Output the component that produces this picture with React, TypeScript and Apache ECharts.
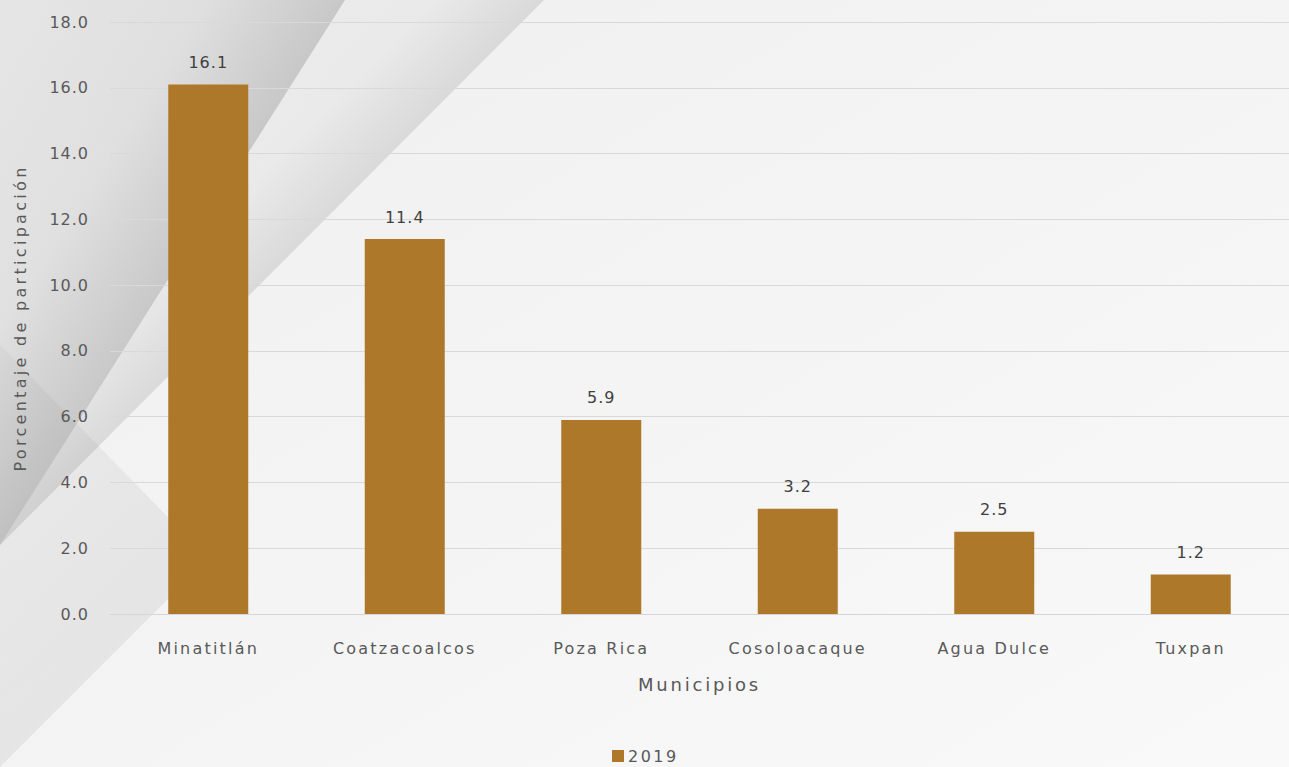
import React, { useEffect, useRef } from "react";
import * as echarts from "echarts";

const categories = ["Minatitlán", "Coatzacoalcos", "Poza Rica", "Cosoloacaque", "Agua Dulce", "Tuxpan"];
const values2019 = [16.1, 11.4, 5.9, 3.2, 2.5, 1.2];
const seriesName = "2019";
const yAxisName = "Porcentaje de participación";
const xAxisName = "Municipios";

const BAR_COLOR = "#ad782a";
const TEXT_COLOR = "#595959";
const FONT = "DejaVu Sans";

function spaceTexts(root: HTMLElement) {
  const texts = root.querySelectorAll("text");
  texts.forEach((t) => {
    const s = (t.textContent || "").trim();
    let sp = 0;
    if (s === yAxisName) sp = 3.3;
    else if (s === xAxisName) sp = 2.8;
    else if (categories.indexOf(s) >= 0) sp = 2.2;
    else if (s === seriesName) sp = 2.5;
    else if (/^[0-9.]+$/.test(s)) sp = 1;
    if (sp) t.setAttribute("letter-spacing", String(sp));
  });
}

export default function App() {
  const ref = useRef<HTMLDivElement>(null);

  useEffect(() => {
    if (!ref.current) return;
    const el = ref.current;
    const chart = echarts.init(el, undefined, { renderer: "svg" });
    chart.setOption({
      animation: false,
      backgroundColor: {
        type: "linear",
        x: 0,
        y: 0,
        x2: 1,
        y2: 1,
        colorStops: [
          { offset: 0, color: "#efefef" },
          { offset: 0.5, color: "#f4f4f4" },
          { offset: 1, color: "#f9f9f9" },
        ],
      },
      graphic: {
        elements: [
          {
            type: "polygon",
            z: -10,
            silent: true,
            shape: { points: [[0, 345], [200, 550], [200, 567], [0, 767]] },
            style: {
              fill: {
                type: "linear",
                x: 0,
                y: 345,
                x2: 190,
                y2: 560,
                global: true,
                colorStops: [
                  { offset: 0, color: "rgba(0,0,0,0.03)" },
                  { offset: 1, color: "rgba(0,0,0,0.06)" },
                ],
              },
            },
          },
          {
            type: "polygon",
            z: -9,
            silent: true,
            shape: { points: [[0, 0], [345, 0], [0, 545]] },
            style: {
              fill: {
                type: "linear",
                x: 0,
                y: 0,
                x2: 246,
                y2: 156,
                global: true,
                colorStops: [
                  { offset: 0, color: "rgba(0,0,0,0.04)" },
                  { offset: 0.6, color: "rgba(0,0,0,0.07)" },
                  { offset: 1, color: "rgba(0,0,0,0.17)" },
                ],
              },
            },
          },
          {
            type: "polygon",
            z: -9,
            silent: true,
            shape: { points: [[345, 0], [544, 0], [0, 545]] },
            style: {
              fill: {
                type: "linear",
                x: 0,
                y: 0,
                x2: 272,
                y2: 272,
                global: true,
                colorStops: [
                  { offset: 0, color: "rgba(0,0,0,0.0)" },
                  { offset: 0.8, color: "rgba(0,0,0,0.03)" },
                  { offset: 1, color: "rgba(0,0,0,0.1)" },
                ],
              },
            },
          },
        ],
      },
      grid: { left: 110, right: 0, top: 22, bottom: 153, containLabel: false },
      legend: {
        data: [{ name: seriesName, icon: "rect" }],
        top: 743,
        left: 607,
        itemWidth: 12,
        itemHeight: 12,
        itemGap: 4,
        textStyle: { color: TEXT_COLOR, fontFamily: FONT, fontSize: 16, padding: [0, 0, 0, -1] },
      },
      xAxis: {
        type: "category",
        data: categories,
        z: 5,
        name: xAxisName,
        nameLocation: "middle",
        nameGap: 61,
        nameTextStyle: { color: TEXT_COLOR, fontFamily: FONT, fontSize: 18 },
        axisLine: { show: true, lineStyle: { color: "#d6d6d6", width: 1 } },
        axisTick: { show: false },
        axisLabel: { color: TEXT_COLOR, fontFamily: FONT, fontSize: 16, margin: 26 },
      },
      yAxis: {
        type: "value",
        min: 0,
        max: 18,
        interval: 2,
        z: 5,
        name: yAxisName,
        nameLocation: "middle",
        nameGap: 82,
        nameTextStyle: { color: TEXT_COLOR, fontFamily: FONT, fontSize: 16 },
        axisLine: { show: false },
        axisTick: { show: false },
        axisLabel: {
          color: TEXT_COLOR,
          fontFamily: FONT,
          fontSize: 16,
          margin: 21,
          formatter: (v: number) => v.toFixed(1),
        },
        splitLine: { show: true, lineStyle: { color: "#d9d9d9", width: 1 } },
      },
      series: [
        {
          name: seriesName,
          type: "bar",
          data: values2019,
          barWidth: 80,
          z: 6,
          itemStyle: { color: BAR_COLOR },
          label: {
            show: true,
            position: "top",
            distance: 14,
            color: "#404040",
            fontFamily: FONT,
            fontSize: 16,
            formatter: (p: any) => Number(p.value).toFixed(1),
          },
        },
      ],
    });
    spaceTexts(el);
    const onFinished = () => spaceTexts(el);
    chart.on("finished", onFinished);
    const timer = setTimeout(() => spaceTexts(el), 50);
    return () => {
      clearTimeout(timer);
      chart.off("finished", onFinished);
      chart.dispose();
    };
  }, []);

  return (
    <div
      ref={ref}
      style={{ position: "fixed", left: 0, top: 0, width: 1289, height: 767 }}
    />
  );
}
